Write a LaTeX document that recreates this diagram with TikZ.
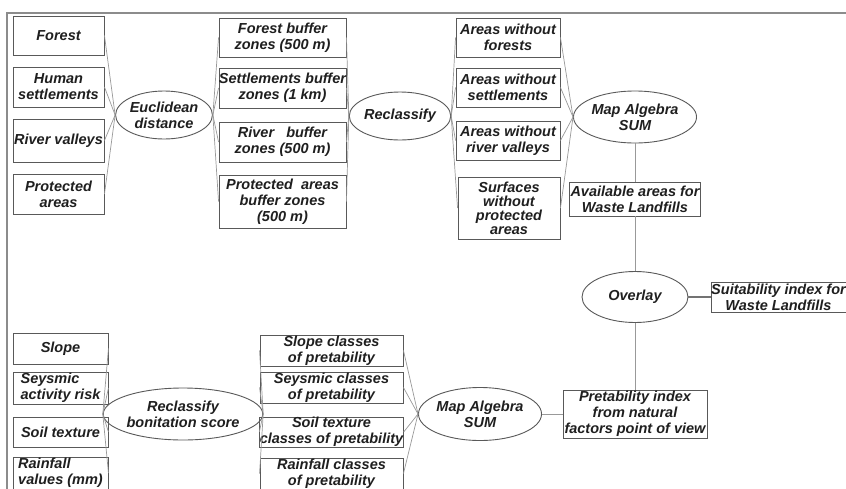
\documentclass[tikz,border=0pt]{standalone}
\usepackage{fontspec}
\setmainfont{Liberation Sans}
\usetikzlibrary{shapes.geometric}
\tikzset{
  lbl/.style={font=\fontsize{14.5}{16}\selectfont\bfseries\itshape, text=black!88, align=center, inner sep=0pt},
  box/.style={lbl, draw=black!65, line width=0.9pt, rectangle},
  ell/.style={lbl, draw=black!65, line width=0.9pt, ellipse},
  conn/.style={draw=black!40, line width=0.7pt},
  thick conn/.style={draw=black!55, line width=1.8pt},
  frame/.style={draw=black!45, line width=1.1pt}
}
\begin{document}
\begin{tikzpicture}[x=1pt,y=-1pt]
\clip (0,0) rectangle (846,488);
\fill[white] (0,0) rectangle (846,488);
\coordinate (fb) at (7,495);
\coordinate (fc) at (7,13);
\coordinate (fr) at (850,13);
\draw[frame] (fb) -- (fc) -- (fr);

% column 1 (top)
\node[box, minimum width=91, minimum height=39] (forest) at (58.5,35.5) {Forest};
\node[box, minimum width=91, minimum height=40] (human) at (58.5,87) {Human\\settlements};
\node[box, minimum width=91, minimum height=43] (river) at (58.5,140.5) {River valleys};
\node[box, minimum width=91, minimum height=40] (prot) at (58.5,194) {Protected\\areas};

\node[ell, minimum width=86, minimum height=48] (eucl) at (164,115) {Euclidean\\distance};

% column 2 (top)
\node[box, minimum width=127, minimum height=39] (fbz) at (282.5,37.5) {Forest buffer\\zones (500 m)};
\node[box, minimum width=127, minimum height=40] (sbz) at (282.5,88) {Settlements buffer\\zones (1 km)};
\node[box, minimum width=127, minimum height=40] (rbz) at (282.5,142) {River \ \ buffer\\zones (500 m)};
\node[box, minimum width=127, minimum height=53] (pbz) at (282.5,201.5) {Protected \ areas\\buffer zones\\(500 m)};

\node[ell, minimum width=84, minimum height=48] (recl) at (400,116) {Reclassify};

% column 3 (top)
\node[box, minimum width=104, minimum height=39] (awf) at (508,37.5) {Areas without\\forests};
\node[box, minimum width=104, minimum height=39] (aws) at (508,87.5) {Areas without\\settlements};
\node[box, minimum width=104, minimum height=39] (awr) at (508,140.5) {Areas without\\river valleys};
\node[box, minimum width=102, minimum height=62, font=\fontsize{14.5}{14}\selectfont\bfseries\itshape] (swp) at (509,208) {Surfaces\\without\\protected\\areas};

\node[ell, minimum width=106, minimum height=52] (mas1) at (635,117) {Map Algebra\\SUM};
\node[box, minimum width=131, minimum height=34] (avail) at (635,199) {Available areas for\\Waste Landfills};
\node[ell, minimum width=106, minimum height=51] (over) at (635,297) {Overlay};
\node[box, minimum width=135, minimum height=30] (suit) at (778.5,297) {Suitability index for\\Waste Landfills};
\node[box, minimum width=144, minimum height=48] (pret) at (635,414) {Pretability index\\from natural\\factors point of view};

% bottom column 1
\node[box, minimum width=95, minimum height=31] (slope) at (60.5,348.5) {Slope};
\node[box, minimum width=95, minimum height=32, align=left] (seys) at (60.5,388) {Seysmic\\activity risk};
\node[box, minimum width=95, minimum height=30] (soil) at (60.5,432) {Soil texture};
\node[box, minimum width=95, minimum height=32, align=left] (rain) at (60.5,473) {Rainfall\\values (mm)};

\node[ell, minimum width=124, minimum height=52] (bon) at (183,414) {Reclassify\\bonitation score};

% bottom column 2
\node[box, minimum width=143, minimum height=31] (slc) at (331.5,350.5) {Slope classes\\of pretability};
\node[box, minimum width=143, minimum height=31] (sec) at (331.5,387.5) {Seysmic classes\\of pretability};
\node[box, minimum width=143, minimum height=30] (soc) at (331.5,432) {Soil texture\\classes of pretability};
\node[box, minimum width=143, minimum height=31] (rac) at (331.5,473.5) {Rainfall classes\\of pretability};

\node[ell, minimum width=106, minimum height=53] (mas2) at (480,414) {Map Algebra\\SUM};

% connectors
\foreach \n in {forest,human,river,prot} \draw[conn] (\n.east) -- (eucl.west);
\foreach \n in {fbz,sbz,rbz,pbz} \draw[conn] (eucl.east) -- (\n.west);
\foreach \n in {fbz,sbz,rbz,pbz} \draw[conn] (\n.east) -- (recl.west);
\foreach \n in {awf,aws,awr,swp} \draw[conn] (recl.east) -- (\n.west);
\foreach \n in {awf,aws,awr,swp} \draw[conn] (\n.east) -- (mas1.west);
\draw[conn] (mas1.south) -- (avail.north);
\draw[conn] (avail.south) -- (over.north);
\draw[conn] (over.south) -- (pret.north);
\draw[thick conn] (over.east) -- (suit.west);
\foreach \n in {slope,seys,soil,rain} \draw[conn] (\n.east) -- (bon.west);
\foreach \n in {slc,sec,soc,rac} \draw[conn] (bon.east) -- (\n.west);
\foreach \n in {slc,sec,soc,rac} \draw[conn] (\n.east) -- (mas2.west);
\draw[conn] (mas2.east) -- (pret.west);
\end{tikzpicture}
\end{document}
